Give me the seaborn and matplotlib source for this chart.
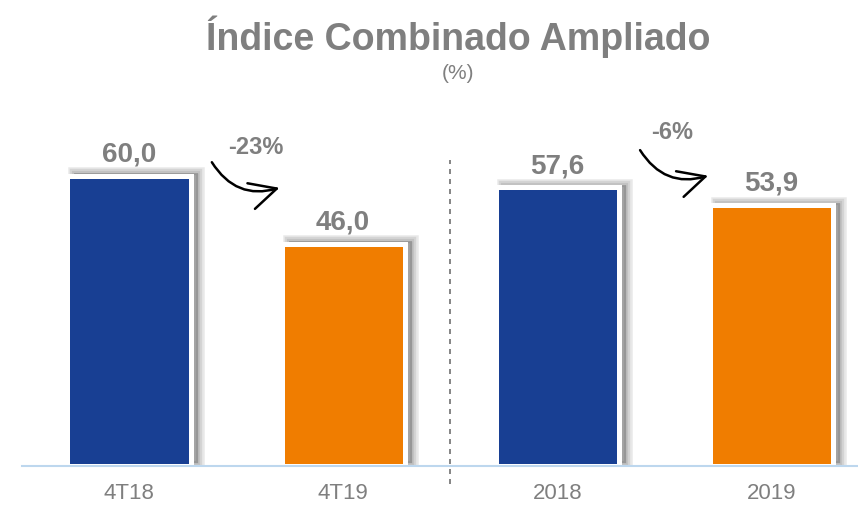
import matplotlib
matplotlib.use("Agg")
import matplotlib.pyplot as plt
import matplotlib.patheffects as pe
import seaborn as sns
import pandas as pd

# data
periods = ["4T18", "4T19", "2018", "2019"]
values = [60.0, 46.0, 57.6, 53.9]
bar_colors = ["#183f93", "#f07d00", "#183f93", "#f07d00"]
changes = ["-23%", "-6%"]

df = pd.DataFrame({"period": periods, "value": values})

sns.set_theme(style="white")
plt.rcParams["font.family"] = ["Liberation Sans", "DejaVu Sans"]

gray = "#7f7f7f"
fig = plt.figure(figsize=(8.58, 5.05), dpi=100)
ax = fig.add_axes([22 / 858, 39 / 505, 835 / 858, 366 / 505])

sns.barplot(data=df, x="period", y="value", hue="period", palette=bar_colors,
            width=0.575, legend=False, ax=ax, saturation=1)

# white border + soft blurred shadow (up and to the right)
shadow = [pe.PathPatchEffect(offset=(5, 2), facecolor="#333333", edgecolor="#333333",
                             linewidth=lw, alpha=0.11)
          for lw in (9, 6, 3)]
for bar in ax.patches:
    bar.set_edgecolor("white")
    bar.set_linewidth(3.6)
    bar.set_path_effects(shadow + [pe.Normal()])

for i, v in enumerate(values):
    ax.annotate(f"{v:.1f}".replace(".", ","), (i, v), xytext=(0, 6),
                textcoords="offset points", ha="center", va="bottom",
                fontsize=20, fontweight="bold", color=gray)

# curved change arrows
arrow_starts = [(0.38, 63.3), (2.38, 65.8)]
arrow_ends = [(0.715, 57.7), (2.717, 60.2)]
label_pos = [(0.59, 65.8), (2.537, 68.9)]
for s, e, p, txt in zip(arrow_starts, arrow_ends, label_pos, changes):
    ax.annotate("", xy=e, xytext=s,
                arrowprops=dict(arrowstyle="->,head_length=1.6,head_width=0.8",
                                connectionstyle="arc3,rad=0.4", color="black", lw=1.8))
    ax.text(p[0], p[1], txt, ha="center", va="center",
            fontsize=17, fontweight="bold", color=gray)

ax.axvline(1.5, ymin=-0.05, ymax=0.836, color="#707070", ls=(0, (3, 3)), lw=1.2, clip_on=False)

ax.set_xlim(-0.5, 3.4)
ax.set_ylim(0, 75.68)
sns.despine(ax=ax, left=True, right=True, top=True)
ax.spines["bottom"].set_color("#bdd7ee")
ax.spines["bottom"].set_linewidth(1.5)
ax.spines["bottom"].set_zorder(5)
ax.set_yticks([])
ax.set_xlabel("")
ax.set_ylabel("")
ax.tick_params(axis="x", length=0, pad=12, labelsize=16, labelcolor=gray)

fig.text(0.534, 0.927, "Índice Combinado Ampliado", ha="center", va="center",
         fontsize=27, fontweight="bold", color=gray)
fig.text(0.534, 0.855, "(%)", ha="center", va="center", fontsize=15, color=gray)

fig.savefig("out.png", dpi=100)
